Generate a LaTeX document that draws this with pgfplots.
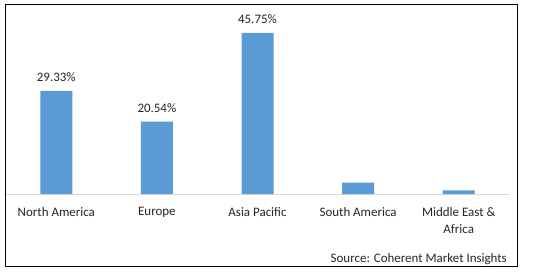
\documentclass[border=0pt]{standalone}
\usepackage{fontspec}
\setmainfont{Carlito}
\usepackage{pgfplots}
\pgfplotsset{compat=1.18}
\definecolor{barblue}{HTML}{5B9BD5}
\definecolor{axgray}{HTML}{D9D9D9}
\definecolor{txt}{HTML}{262626}
\begin{document}
\begin{tikzpicture}
\fill[white] (0,0) rectangle (538bp,272bp);
\draw[black, line width=1bp] (5.5bp,5bp) rectangle (517bp,267.3bp);
\begin{axis}[
 at={(6bp,78bp)}, anchor=south west, scale only axis,
 width=503bp, height=176bp,
 xmin=-0.5, xmax=4.5, ymin=0, ymax=50,
 axis x line*=bottom, axis y line=none,
 x axis line style={axgray, line width=0.8bp, -},
 xtick=data,
 xticklabels={North America, Europe, Asia Pacific, South America, {Middle East \&\\Africa}},
 xticklabel style={align=center, font=\fontsize{13}{17}\selectfont, text=txt, yshift=-10bp},
 major tick length=0,
 ytick=\empty,
 ybar, bar width=32bp,
 nodes near coords, point meta=explicit symbolic,
 every node near coord/.append style={font=\fontsize{13}{15}\selectfont, text=txt, yshift=6bp},
 clip=false,
]
\addplot[fill=barblue, draw=none] coordinates {(0,29.33) [29.33\%] (1,20.54) [20.54\%] (2,45.75) [45.75\%] (3,3.2) [{}] (4,1.0) [{}]};
\end{axis}
\node[anchor=base east, font=\fontsize{13}{15}\selectfont, text=txt, inner sep=0] at (507bp,10bp) {Source: Coherent Market Insights};
\end{tikzpicture}
\end{document}
